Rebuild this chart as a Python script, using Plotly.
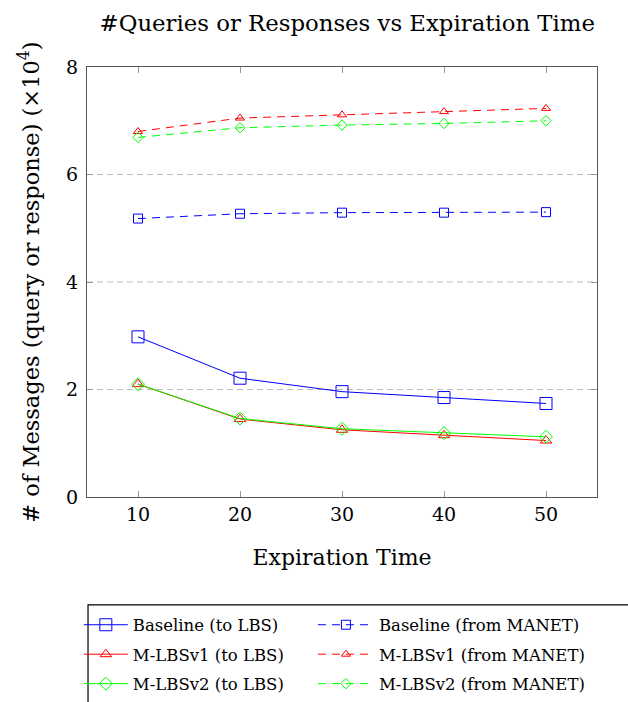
import plotly.graph_objects as go

expiration = [10, 20, 30, 40, 50]
baseline_lbs = [2.98, 2.21, 1.96, 1.85, 1.74]
mlbsv1_lbs = [2.10, 1.45, 1.25, 1.15, 1.05]
mlbsv2_lbs = [2.10, 1.46, 1.27, 1.19, 1.12]
baseline_manet = [5.18, 5.27, 5.29, 5.29, 5.30]
mlbsv1_manet = [6.80, 7.05, 7.11, 7.17, 7.23]
mlbsv2_manet = [6.69, 6.87, 6.92, 6.95, 7.00]
y_ticks = [0, 2, 4, 6, 8]
x_ticks = [10, 20, 30, 40, 50]

FONT = "DejaVu Serif"
BLUE, RED, GREEN = "#0000ff", "#ff0000", "#00ff00"

fig = go.Figure()

def add(y, name, color, symbol, dash, size, legend):
    fig.add_trace(go.Scatter(
        x=expiration, y=y, name=name, mode="lines+markers",
        legend=legend, legendgroup=name,
        line=dict(color=color, width=1, dash=dash),
        marker=dict(symbol=symbol, size=size, color=color,
                    line=dict(color=color, width=1)),
    ))

add(baseline_lbs, "Baseline (to LBS)", BLUE, "square-open", "solid", 12, "legend")
add(mlbsv1_lbs, "M-LBSv1 (to LBS)", RED, "triangle-up-open", "solid", 10, "legend")
add(mlbsv2_lbs, "M-LBSv2 (to LBS)", GREEN, "diamond-open", "solid", 10, "legend")
add(baseline_manet, "Baseline (from MANET)", BLUE, "square-open", "8px,6px", 9, "legend2")
add(mlbsv1_manet, "M-LBSv1 (from MANET)", RED, "triangle-up-open", "8px,6px", 8, "legend2")
add(mlbsv2_manet, "M-LBSv2 (from MANET)", GREEN, "diamond-open", "8px,6px", 8, "legend2")

for g in [2, 4, 6]:
    fig.add_shape(type="line", xref="paper", yref="y", x0=0, x1=1, y0=g, y1=g,
                  line=dict(color="#bdbdbd", width=1, dash="6px,4px"), layer="below")

# legend frame
fig.add_shape(type="rect", xref="paper", yref="paper",
              x0=0.002, x1=1.2, y0=-0.6, y1=-0.251,
              line=dict(color="black", width=1.2), fillcolor="rgba(0,0,0,0)")

legend_common = dict(orientation="v", yanchor="top", y=-0.257, xanchor="left",
                     font=dict(size=16.5, family=FONT), bgcolor="rgba(0,0,0,0)",
                     tracegroupgap=5, borderwidth=0)

fig.update_layout(
    width=628, height=702,
    margin=dict(l=87, r=31, t=67, b=205, autoexpand=False),
    paper_bgcolor="white", plot_bgcolor="white",
    font=dict(family=FONT, color="black", size=19),
    title=dict(text="#Queries or Responses vs Expiration Time",
               x=0.553, xanchor="center", y=0.967, yanchor="middle",
               font=dict(size=22.8, family=FONT)),
    xaxis=dict(range=[5, 55], tickvals=x_ticks, ticks="inside", ticklen=6,
               tickcolor="#999999", showline=True, linecolor="#555555",
               linewidth=1.3, mirror="ticks", showgrid=False, zeroline=False,
               automargin=False, tickfont=dict(size=19),
               title=dict(text="Expiration Time", font=dict(size=22), standoff=25)),
    yaxis=dict(range=[0, 8], tickvals=y_ticks, ticks="inside", ticklen=6,
               tickcolor="#999999", showline=True, linecolor="#555555",
               linewidth=1.3, mirror="ticks", showgrid=False, zeroline=False,
               automargin=False, tickfont=dict(size=19), ticklabelstandoff=4,
               title=dict(text="# of Messages (query or response) (×10<sup>4</sup>)",
                          font=dict(size=22.5), standoff=20)),
    legend=dict(x=-0.016, itemwidth=44, **legend_common),
    legend2=dict(x=0.443, itemwidth=56, **legend_common),
    showlegend=True,
)

fig.write_html("out.html", post_script="document.body.style.margin='0';",
               config={"displayModeBar": False})
